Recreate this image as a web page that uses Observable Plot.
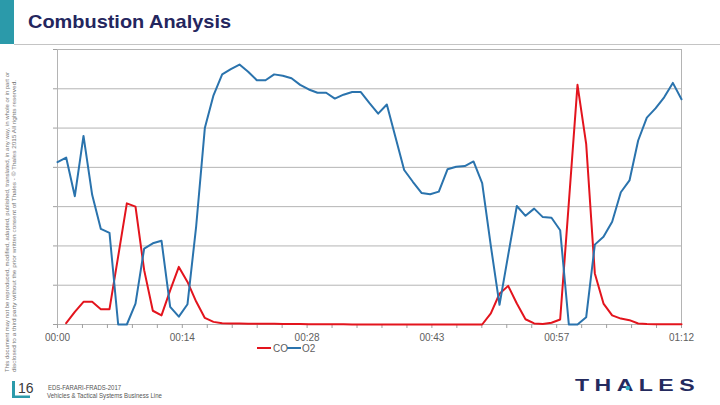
<!DOCTYPE html>
<html>
<head>
<meta charset="utf-8">
<script src="https://cdn.jsdelivr.net/npm/d3@7"></script>
<script src="https://cdn.jsdelivr.net/npm/@observablehq/plot@0.6"></script>
<style>
  html, body { margin: 0; padding: 0; background: #fff; }
  #page { position: relative; width: 720px; height: 405px; overflow: hidden; font-family: "Liberation Sans", Arial, sans-serif; }
  #chart { position: absolute; left: 0; top: 0; }
  #deco { position: absolute; left: 0; top: 0; pointer-events: none; }
</style>
</head>
<body>
<div id="page">
  <div id="chart"></div>
  <svg id="deco" width="720" height="405" xmlns="http://www.w3.org/2000/svg"></svg>
</div>
<script>
// ---- data (one reading per second) ----
const seconds = [0,1,2,3,4,5,6,7,8,9,10,11,12,13,14,15,16,17,18,19,20,21,22,23,24,25,26,27,28,29,30,31,32,33,34,35,36,37,38,39,40,41,42,43,44,45,46,47,48,49,50,51,52,53,54,55,56,57,58,59,60,61,62,63,64,65,66,67,68,69,70,71,72];

const o2 = [12.4, 12.75, 9.8, 14.4, 9.9, 7.3, 7.0, 0, 0, 1.6,
            5.8, 6.2, 6.4, 1.35, 0.6, 1.55, 7.5, 15.0, 17.5, 19.1,
            19.5, 19.85, 19.3, 18.65, 18.65, 19.1, 19.0, 18.8, 18.3, 17.95,
            17.7, 17.7, 17.25, 17.55, 17.75, 17.75, 16.9, 16.1, 16.8, 14.3,
            11.8, 10.9, 10.05, 9.95, 10.15, 11.85, 12.05, 12.1, 12.45, 10.8,
            6.0, 1.5, 5.3, 9.05, 8.3, 8.85, 8.2, 8.15, 7.2, 0,
            0, 0.55, 6.1, 6.7, 7.85, 10.1, 11.0, 14.05, 15.8, 16.5,
            17.35, 18.45, 17.2];

const co = [null, 0.1, 0.97, 1.73, 1.73, 1.17, 1.17, 5.2, 9.25, 9.0,
            4.15, 1.05, 0.7, 2.6, 4.4, 3.25, 1.75, 0.5, 0.2, 0.1,
            0.08, 0.07, 0.06, 0.06, 0.05, 0.05, 0.04, 0.03, 0.03, 0.02,
            0.02, 0.02, 0.01, 0.01, 0, 0, 0, 0, 0, 0,
            0, 0, 0, 0, 0, 0, 0, 0, 0, 0,
            0.85, 2.35, 2.95, 1.6, 0.4, 0.08, 0.03, 0.13, 0.38, 9.3,
            18.3, 13.8, 3.9, 1.6, 0.7, 0.45, 0.33, 0.08, 0.03, 0.02,
            0.02, 0.02, 0.02];

const seriesNames = ["CO", "O2"];
const seriesColors = ["#e3141d", "#2a73ad"];

const tickPositions = [0, 14.4, 28.8, 43.2, 57.6, 72];
const tickLabels = ["00:00", "00:14", "00:28", "00:43", "00:57", "01:12"];
const gridValues = [0, 3, 6, 9, 12, 15, 18, 21];

// ---- texts ----
const titleText = "Combustion Analysis";
const disclaimer1 = "This document may not be reproduced, modified, adapted, published, translated, in any way, in whole or in part or";
const disclaimer2 = "disclosed to a third party without the prior written consent of Thales - \u00A9 Thales 2015 All rights reserved.";
const pageNumber = "16";
const footer1 = "EDS-FARARI-FRADS-2017";
const footer2 = "Vehicles & Tactical Systems Business Line";
const logoText = "THALES";

// ---- table ----
const rows = [];
seriesNames.forEach((name, k) => {
  const vals = k === 0 ? co : o2;
  seconds.forEach((s, i) => rows.push({ t: s, v: vals[i], series: name }));
});

const minorTicks = d3.range(26).map(i => i * 72 / 25);
const fmt = d => {
  const k = tickPositions.findIndex(p => Math.abs(p - d) < 1e-6);
  return k >= 0 ? tickLabels[k] : "";
};

const chart = Plot.plot({
  width: 720,
  height: 405,
  marginLeft: 57,
  marginRight: 39,
  marginTop: 49,
  marginBottom: 81,
  x: { domain: [0, 72] },
  y: { domain: [0, 21] },
  color: { domain: seriesNames, range: seriesColors },
  style: { background: "transparent", fontFamily: "'Liberation Sans', Arial, sans-serif", fontSize: "10px", color: "#606060" },
  marks: [
    Plot.ruleY(gridValues, { stroke: "#b4b4b4", strokeWidth: 1 }),
    Plot.ruleX([0, 72], { stroke: "#b4b4b4", strokeWidth: 1 }),
    Plot.axisY({ ticks: gridValues, tickSize: 4, tickFormat: () => "", stroke: "#a0a0a0", label: null }),
    Plot.axisX({ ticks: minorTicks, tickSize: 4, tickPadding: 5, tickFormat: fmt, stroke: "#a0a0a0", fill: "#606060", label: null }),
    Plot.line(rows.filter(d => d.series === "CO"), { x: "t", y: "v", stroke: "series", strokeWidth: 2, defined: d => d.v != null }),
    Plot.line(rows.filter(d => d.series === "O2"), { x: "t", y: "v", stroke: "series", strokeWidth: 2, defined: d => d.v != null })
  ]
});
document.getElementById("chart").appendChild(chart);

// ---- slide decorations ----
const deco = d3.select("#deco");
deco.append("rect").attr("x", 0).attr("y", 0).attr("width", 14).attr("height", 44).attr("fill", "#2b9aaa");
deco.append("line").attr("x1", 14).attr("x2", 720).attr("y1", 44.5).attr("y2", 44.5).attr("stroke", "#c4c4c4");
deco.append("text").attr("x", 28).attr("y", 28).attr("font-size", 19).attr("font-weight", "bold")
  .attr("fill", "#24265e").attr("textLength", 203).attr("lengthAdjust", "spacingAndGlyphs").text(titleText);

deco.append("text").attr("transform", "translate(8.5,372) rotate(-90)").attr("font-size", 5.4).attr("fill", "#777")
  .attr("textLength", 300).attr("lengthAdjust", "spacingAndGlyphs").text(disclaimer1);
deco.append("text").attr("transform", "translate(15.5,372) rotate(-90)").attr("font-size", 5.4).attr("fill", "#777")
  .attr("textLength", 292).attr("lengthAdjust", "spacingAndGlyphs").text(disclaimer2);

// legend
const lg = [{ x: 257, tx: 273 }, { x: 287, tx: 302 }];
seriesNames.forEach((name, k) => {
  deco.append("line").attr("x1", lg[k].x).attr("x2", lg[k].x + 14).attr("y1", 348).attr("y2", 348)
    .attr("stroke", seriesColors[k]).attr("stroke-width", 2);
  deco.append("text").attr("x", lg[k].tx).attr("y", 352).attr("font-size", 10).attr("fill", "#606060").text(name);
});

// footer
deco.append("rect").attr("x", 12).attr("y", 381).attr("width", 3).attr("height", 17).attr("fill", "#2b9aaa");
deco.append("rect").attr("x", 12).attr("y", 395.5).attr("width", 18).attr("height", 2.5).attr("fill", "#2b9aaa");
deco.append("text").attr("x", 18).attr("y", 393).attr("font-size", 14).attr("fill", "#3a3a3a").text(pageNumber);
deco.append("text").attr("x", 48).attr("y", 389.5).attr("font-size", 6.3).attr("fill", "#555")
  .attr("textLength", 73).attr("lengthAdjust", "spacingAndGlyphs").text(footer1);
deco.append("text").attr("x", 47).attr("y", 397.5).attr("font-size", 6.3).attr("fill", "#555")
  .attr("textLength", 115).attr("lengthAdjust", "spacingAndGlyphs").text(footer2);
deco.append("text").attr("x", 575).attr("y", 391).attr("font-size", 17).attr("font-weight", "bold").attr("fill", "#242a5e")
  .attr("letter-spacing", 4).attr("textLength", 125).attr("lengthAdjust", "spacingAndGlyphs").text(logoText);
deco.append("circle").attr("cx", 627.7).attr("cy", 388).attr("r", 2.2).attr("fill", "#2fb2c8");
</script>
</body>
</html>
